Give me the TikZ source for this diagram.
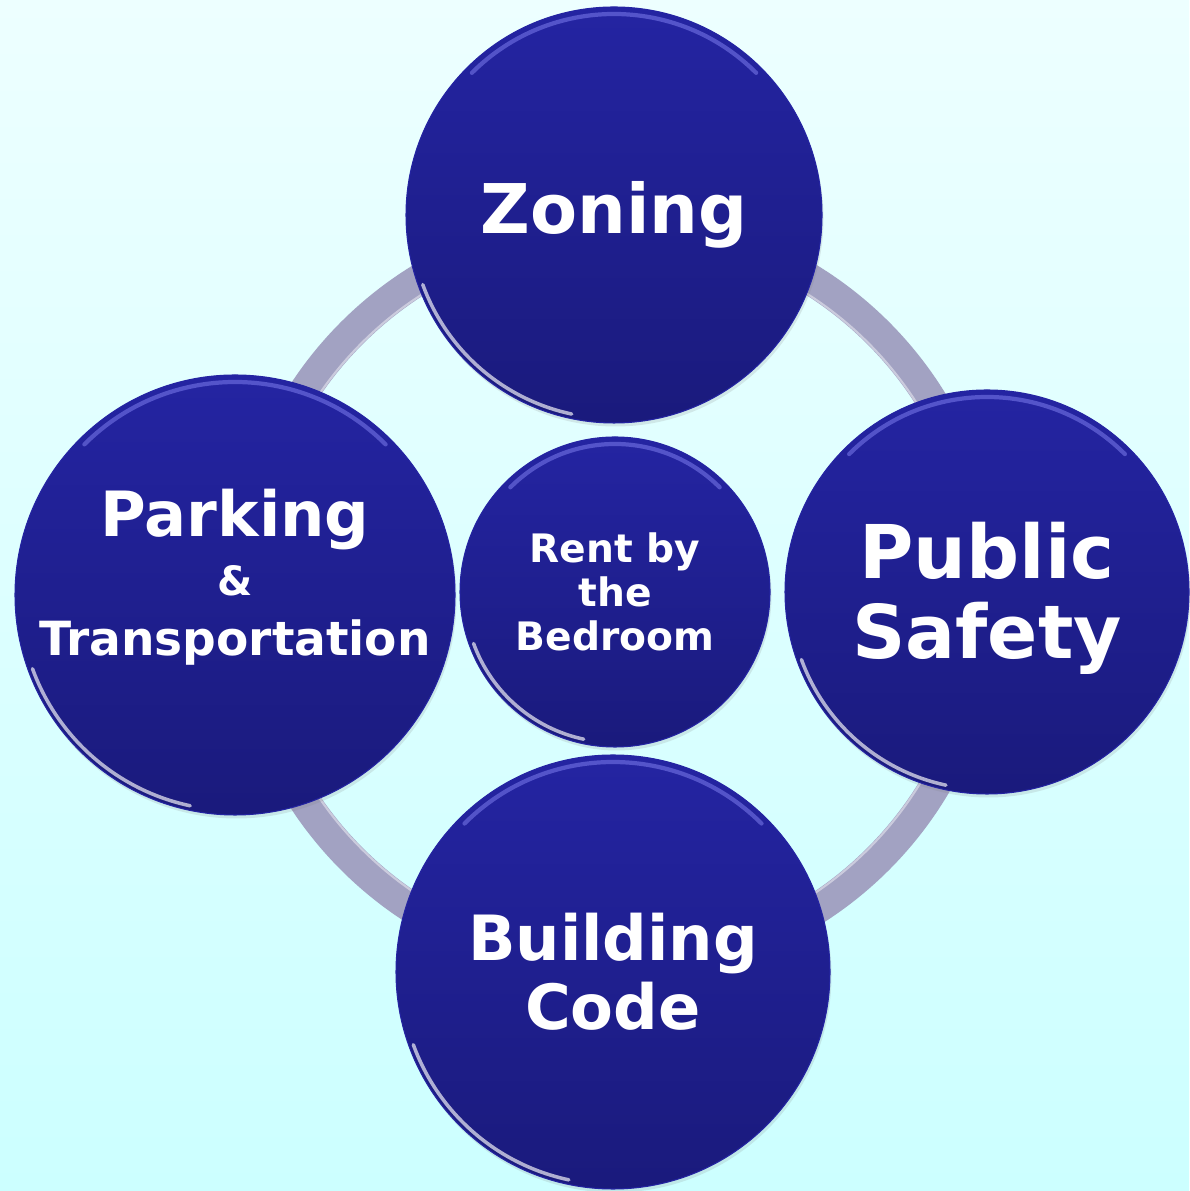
\documentclass[tikz,border=0pt]{standalone}
\usepackage{fontspec}
\setmainfont{DejaVu Sans}
\usetikzlibrary{shadows}
\definecolor{BubbleTop}{HTML}{2424A2}
\definecolor{BubbleBottom}{HTML}{1A1A7C}
\definecolor{BubbleGlow}{HTML}{7C7CEC}
\definecolor{RingGray}{HTML}{A2A2C2}
\definecolor{SkyTop}{HTML}{EDFFFF}
\definecolor{SkyBottom}{HTML}{CCFFFF}

\begin{document}
\begin{tikzpicture}[
    bubble/.style = {circle, top color=BubbleTop, bottom color=BubbleBottom, draw=BubbleTop,
      line width=0.6pt, text=white, align=center, inner sep=0pt,
      drop shadow={opacity=0.18, shadow xshift=0.03cm, shadow yshift=-0.07cm}},
    caption/.style = {text=white, align=center, inner sep=0pt},
    ring/.style = {draw=RingGray, line width=0.62cm},
    gloss/.style = {white, line width=2pt, opacity=0.65, line cap=round},
    glow/.style = {BubbleGlow, line width=2.4pt, opacity=0.55, line cap=round}]
    \useasboundingbox (0,0) rectangle (23.78,23.82);
    \fill[top color=SkyTop, bottom color=SkyBottom] (0,0) rectangle (23.78,23.82);

    \coordinate (hub) at (12.30,11.90);
    \draw[ring] (hub) circle[radius=7.44cm];
    \draw[white, opacity=0.45, line width=1.2pt] (hub) circle[radius=7.16cm];

    \node[bubble, minimum size=6.2cm, font=\bfseries\fontsize{22.3}{25}\selectfont] (rent) at (12.30,11.98) {Rent by\\the\\Bedroom};
    \node[bubble, minimum size=8.32cm, font=\bfseries\fontsize{39}{45}\selectfont] (zoning) at (12.28,19.52) {Zoning};
    \node[bubble, minimum size=8.08cm, font=\bfseries\fontsize{42.2}{45.5}\selectfont] (safety) at (19.74,11.98) {};
    \node[caption, font=\bfseries\fontsize{42.2}{45.5}\selectfont] (safetytext) at ([yshift=-0.12cm]safety.center) {Public\\Safety};
    \node[bubble, minimum size=8.68cm, font=\bfseries\fontsize{35.5}{39}\selectfont] (building) at (12.26,4.38) {Building\\Code};
    \node[bubble, minimum size=8.8cm] (parking) at (4.70,11.92) {};
    \node[caption, font=\bfseries\fontsize{26.8}{34}\selectfont] (parkingtext) at ([yshift=0.36cm]parking.center)
      {{\fontsize{35.5}{36}\selectfont Parking}\\{\fontsize{23}{30}\selectfont\&}\\Transportation};

    \foreach \n/\r in {rent/3.1, zoning/4.16, safety/4.04, building/4.34, parking/4.4} {
      \draw[glow] ([shift={(45:{\r-0.14})}]\n.center) arc[start angle=45, end angle=135, radius={\r-0.14}];
      \draw[gloss] ([shift={(200:{\r-0.09})}]\n.center) arc[start angle=200, end angle=258, radius={\r-0.09}];
    }
\end{tikzpicture}
\end{document}
